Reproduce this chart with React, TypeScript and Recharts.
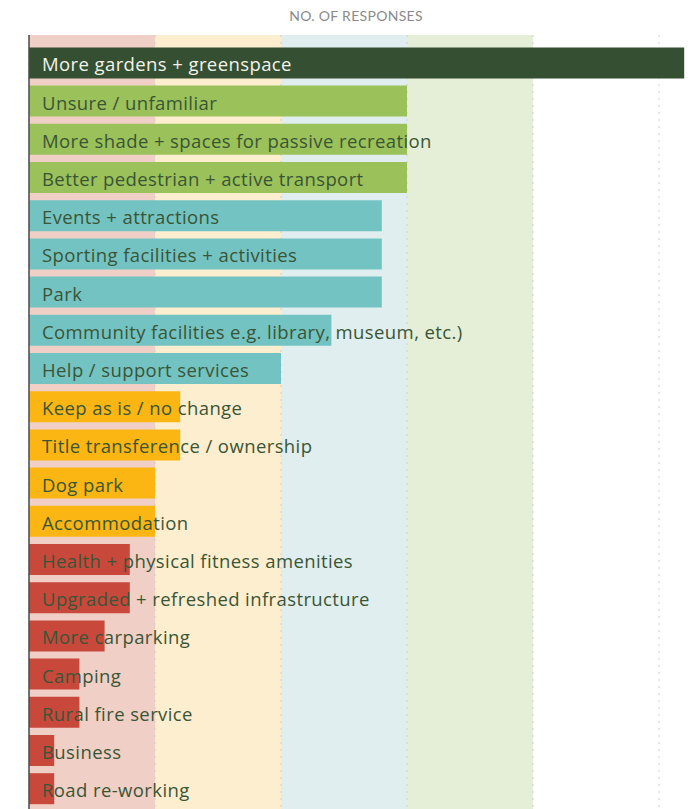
import { Bar, BarChart, CartesianGrid, Cell, LabelList, ReferenceLine, XAxis, YAxis } from 'recharts'

const categories = [
  'More gardens + greenspace',
  'Unsure / unfamiliar',
  'More shade + spaces for passive recreation',
  'Better pedestrian + active transport',
  'Events + attractions',
  'Sporting facilities + activities',
  'Park',
  'Community facilities e.g. library, museum, etc.)',
  'Help / support services',
  'Keep as is / no change',
  'Title transference / ownership',
  'Dog park',
  'Accommodation',
  'Health + physical fitness amenities',
  'Upgraded + refreshed infrastructure',
  'More carparking',
  'Camping',
  'Rural fire service',
  'Business',
  'Road re-working',
]

const responses = [26, 15, 15, 15, 14, 14, 14, 12, 10, 6, 6, 5, 5, 4, 4, 3, 2, 2, 1, 1]

const xTicks = [0, 5, 10, 15, 20, 25, 30]

// colour per band of 5 responses
const tierColors = ['#c9483c', '#fbb614', '#74c3c3', '#9bc15a', '#9bc15a', '#344f31']
const bandFills = ['#f0d0c6', '#fdeecf', '#e0eeef', '#e5eed7', '#ffffff', '#ffffff']

const data = categories.map((name, i) => ({ name, value: responses[i] }))

const tierOf = (v: number) => Math.min(Math.floor(v / 5), tierColors.length - 1)

function BarText(props: any) {
  const { x, y, height, value, index } = props
  return (
    <text
      x={Number(x) + 13}
      y={Number(y) + Number(height) / 2 + 1}
      dominantBaseline="central"
      fontFamily="'Open Sans', sans-serif"
      fontWeight={500}
      fontSize={18.5}
      letterSpacing={0.4}
      fill={index === 0 ? '#f3f3ea' : '#3a5535'}
    >
      {value}
    </text>
  )
}

export default function App() {
  return (
    <div style={{ position: 'absolute', left: 0, top: 0, width: 699, height: 809, overflow: 'hidden', background: '#fff' }}>
      <div
        style={{
          position: 'absolute',
          top: 8,
          left: 0,
          width: 712,
          textAlign: 'center',
          fontFamily: 'Lato, sans-serif',
          fontSize: 14,
          letterSpacing: 0.3,
          color: '#8a8a8a',
          lineHeight: '16px',
        }}
      >
        NO. OF RESPONSES
      </div>
      <BarChart
        width={785}
        height={809}
        data={data}
        layout="vertical"
        margin={{ top: 35, right: 0, left: 29, bottom: 0 }}
        barSize={31}
      >
        <CartesianGrid
          horizontal={false}
          stroke="#cfcfcf"
          strokeDasharray="2 5"
          verticalFill={bandFills}
          fillOpacity={1}
        />
        <XAxis type="number" domain={[0, 30]} ticks={xTicks} hide />
        <YAxis type="category" dataKey="name" hide padding={{ top: 8.4, bottom: 1.6 }} />
        <Bar dataKey="value" isAnimationActive={false}>
          {data.map((d) => (
            <Cell key={d.name} fill={tierColors[tierOf(d.value)]} />
          ))}
          <LabelList dataKey="name" content={BarText} />
        </Bar>
        <ReferenceLine x={0} stroke="#4a4a4a" strokeWidth={1.5} />
      </BarChart>
    </div>
  )
}
